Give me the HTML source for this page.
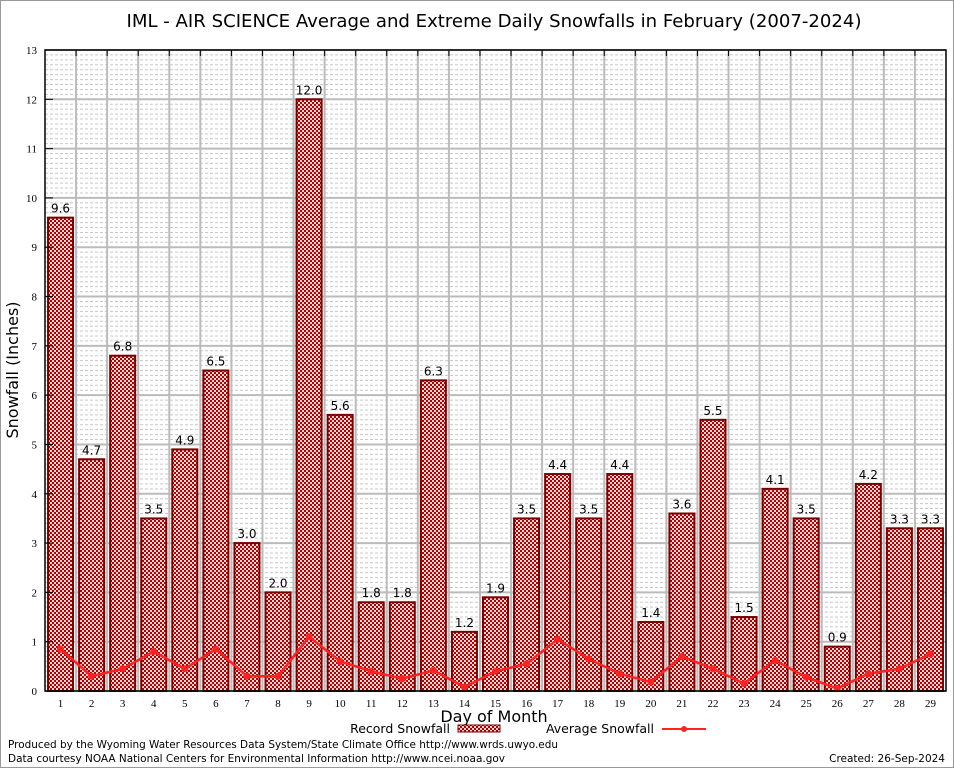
<!DOCTYPE html>
<html><head><meta charset="utf-8"><style>
body{margin:0;background:#fff;}
svg{display:block;font-family:"DejaVu Sans","Liberation Sans",sans-serif;}
</style></head><body>
<svg id="c" width="954" height="768">
<defs>
<pattern id="chk" width="4" height="4" patternUnits="userSpaceOnUse">
<rect width="4" height="4" fill="#b00000"/>
<rect x="0" y="0" width="2" height="2" fill="#f4d8d8"/>
<rect x="2" y="2" width="2" height="2" fill="#f4d8d8"/>
</pattern>
</defs>
<rect x="0.5" y="0.5" width="953" height="767" fill="#fff" stroke="#999"/>
<text x="494" y="27" font-size="18" text-anchor="middle" font-family="DejaVu Sans, sans-serif" textLength="735" lengthAdjust="spacingAndGlyphs">IML - AIR SCIENCE Average and Extreme Daily Snowfalls in February (2007-2024)</text>
<g id="grid"></g>
<g id="bars"></g>
<g id="avg"></g>
<g id="axes"></g>
<text x="18" y="370" font-size="16" text-anchor="middle" transform="rotate(-90 18 370)">Snowfall (Inches)</text>
<text x="494" y="722" font-size="16" text-anchor="middle">Day of Month</text>
<g>
<text x="450" y="733" font-size="12.5" text-anchor="end">Record Snowfall</text>
<rect x="458" y="725" width="42" height="7" fill="url(#chk)" stroke="#7a0000"/>
<text x="654" y="733" font-size="12.5" text-anchor="end">Average Snowfall</text>
<line x1="662" y1="729" x2="706" y2="729" stroke="#f22" stroke-width="2"/>
<circle cx="684" cy="729" r="3" fill="#f22"/>
</g>
<text x="8" y="748" font-size="10.5" textLength="550" lengthAdjust="spacingAndGlyphs">Produced by the Wyoming Water Resources Data System/State Climate Office http://www.wrds.uwyo.edu</text>
<text x="8" y="762" font-size="10.5" textLength="497" lengthAdjust="spacingAndGlyphs">Data courtesy NOAA National Centers for Environmental Information http://www.ncei.noaa.gov</text>
<text x="945" y="762" font-size="10.5" text-anchor="end">Created: 26-Sep-2024</text>
</svg>
<script>
const days=[1,2,3,4,5,6,7,8,9,10,11,12,13,14,15,16,17,18,19,20,21,22,23,24,25,26,27,28,29];
const recordSnow=[9.6,4.7,6.8,3.5,4.9,6.5,3.0,2.0,12.0,5.6,1.8,1.8,6.3,1.2,1.9,3.5,4.4,3.5,4.4,1.4,3.6,5.5,1.5,4.1,3.5,0.9,4.2,3.3,3.3];
const avgSnow=[0.85,0.3,0.45,0.8,0.45,0.85,0.3,0.3,1.1,0.6,0.4,0.25,0.42,0.08,0.4,0.55,1.05,0.65,0.35,0.18,0.7,0.45,0.15,0.62,0.28,0.05,0.35,0.45,0.75];
const yTicks=[0,1,2,3,4,5,6,7,8,9,10,11,12,13];
const NS='http://www.w3.org/2000/svg';
const L=45,R=946,T=50,B=691,yMax=13;
const step=(R-L)/days.length;
const xC=i=>L+step*(i+0.5);
const y=v=>B-(v/yMax)*(B-T);
function mk(tag,attrs,parent){const e=document.createElementNS(NS,tag);for(const k in attrs)e.setAttribute(k,attrs[k]);parent.appendChild(e);return e;}
const grid=document.getElementById('grid'),bars=document.getElementById('bars'),avg=document.getElementById('avg'),axes=document.getElementById('axes');
for(let m=1;m<yMax*10;m++){if(m%10===0)continue;const l=mk('line',{x1:L,x2:R,y1:y(m/10),y2:y(m/10),stroke:'#c8c8c8','stroke-dasharray':'3,2','stroke-width':1},grid);

}
yTicks.forEach(t=>{const l=mk('line',{x1:L,x2:R,y1:y(t),y2:y(t),stroke:'#bbb','stroke-width':2},grid);


const tx=mk('text',{x:L-8,y:y(t)+4,'font-size':11,'text-anchor':'end','font-family':'Liberation Serif, serif'},axes);tx.textContent=t;


mk('line',{x1:L,x2:L+8,y1:y(t),y2:y(t),stroke:'#000'},axes);
});
days.forEach((d,i)=>{if(i>0){const l=mk('line',{x1:L+step*i,x2:L+step*i,y1:T,y2:B,stroke:'#bbb','stroke-width':2},grid);


mk('line',{x1:L+step*i,x2:L+step*i,y1:T,y2:T+6,stroke:'#000'},axes);}
const v=recordSnow[i];
const r=mk('rect',{x:xC(i)-12.5,y:y(v),width:25,height:B-y(v),fill:'url(#chk)',stroke:'#7a0000','stroke-width':2},bars);


const lb=mk('text',{x:xC(i),y:y(v)-5,'font-size':12,'text-anchor':'middle'},bars);lb.textContent=v.toFixed(1);


const tx=mk('text',{x:xC(i),y:B+16,'font-size':11,'text-anchor':'middle','font-family':'Liberation Serif, serif'},axes);tx.textContent=d;


});
const pl=mk('polyline',{points:avgSnow.map((v,i)=>xC(i)+','+y(v)).join(' '),fill:'none',stroke:'#ff2020','stroke-width':2.5},avg);


avgSnow.forEach((v,i)=>{const c=mk('circle',{cx:xC(i),cy:y(v),r:3.5,fill:'#ff2020'},avg);

});
const fr=mk('rect',{x:L,y:T,width:R-L,height:B-T,fill:'none',stroke:'#000','stroke-width':1.5},axes);


</script>
</body></html>
